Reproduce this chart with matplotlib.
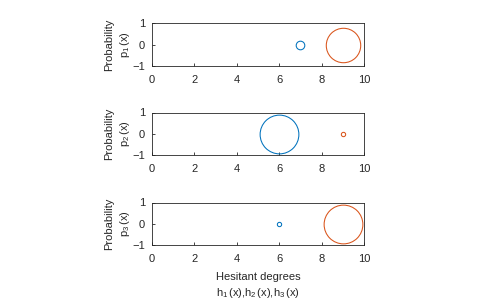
import matplotlib
matplotlib.use('Agg')
from matplotlib import pyplot as plt

# hesitant degrees and probabilities for each hesitant element
h_vals = [[7, 9], [6, 9], [6, 9]]
p_vals = [[0.2, 0.8], [0.9, 0.1], [0.1, 0.9]]
ylabels = ['Probability\np$_1\\,$(x)', 'Probability\np$_2\\,$(x)', 'Probability\np$_3\\,$(x)']
xticks = [0, 2, 4, 6, 8, 10]
yticks = [-1, 0, 1]
colors = ['#0072BD', '#D95319']

plt.rcParams['font.family'] = ['Liberation Sans', 'DejaVu Sans']
plt.rcParams['font.size'] = 8
plt.rcParams['mathtext.fontset'] = 'custom'
plt.rcParams['mathtext.rm'] = 'Liberation Sans'
plt.rcParams['mathtext.it'] = 'Liberation Sans'

fig = plt.figure(figsize=(5, 3), dpi=100)
bottoms = [0.78, 0.483, 0.183]
scale = 31  # marker diameter (pt) per unit probability

for i in range(3):
    ax = fig.add_axes([0.304, bottoms[i], 0.424, 0.142])
    for j in range(2):
        ax.plot(h_vals[i][j], 0, 'o', mfc='none', mec=colors[j],
                ms=p_vals[i][j] * scale, mew=0.75)
    ax.set_xlim(0, 10)
    ax.set_ylim(-1, 1)
    ax.set_xticks(xticks)
    ax.set_yticks(yticks)
    ax.tick_params(direction='in', length=2, width=0.6, colors='#262626',
                   labelcolor='#262626')
    ax.tick_params(axis='x', pad=6.5)
    ax.tick_params(axis='y', pad=5)
    for s in ax.spines.values():
        s.set_color('#262626')
        s.set_linewidth(0.6)
    ax.set_ylabel(ylabels[i], color='#262626', linespacing=1.3, labelpad=0.5)

ax.set_xlabel('Hesitant degrees\nh$_1\\,$(x),h$_2\\,$(x),h$_3\\,$(x)', color='#262626',
              linespacing=1.4, labelpad=6)

fig.savefig('out.png', dpi=100)
